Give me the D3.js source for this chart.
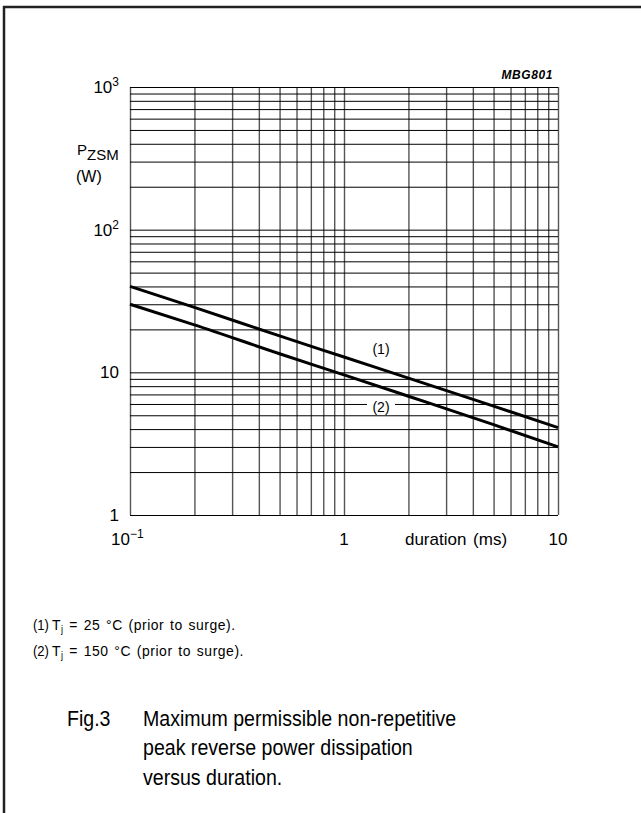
<!DOCTYPE html>
<html>
<head>
<meta charset="utf-8">
<script src="https://cdn.jsdelivr.net/npm/d3@7"></script>
<style>
  body { margin: 0; background: #fff; }
  text { font-family: "Liberation Sans", Arial, sans-serif; fill: #000; }
</style>
</head>
<body>
<div id="chart"></div>
<script>
const width = 641;
const height = 813;

// duration (ms) and P_ZSM (W)
const durations = [0.1, 0.2, 0.5, 1, 2, 5, 10];
const powerTj25 = [40, 28.5, 18, 12.8, 9.1, 5.8, 4.1];
const powerTj150 = [30, 21.5, 13.5, 9.6, 6.8, 4.3, 3.0];

const xTickLabels = [{v: 0.1, base: "10", exp: "\u22121"}, {v: 1, base: "1"}, {v: 10, base: "10"}];
const yTickLabels = [{v: 1000, base: "10", exp: "3"}, {v: 100, base: "10", exp: "2"}, {v: 10, base: "10"}, {v: 1, base: "1"}];

const svg = d3.select("#chart")
    .append("svg")
    .attr("width", width)
    .attr("height", height);

// page frame (only top and left edges show)
svg.append("line").attr("x1", 3).attr("x2", width).attr("y1", 7).attr("y2", 7)
    .attr("stroke", "#222").attr("stroke-width", 2.5);
svg.append("line").attr("x1", 4).attr("x2", 4).attr("y1", 6).attr("y2", height)
    .attr("stroke", "#222").attr("stroke-width", 2.5);

const x = d3.scaleLog().domain([0.1, 10]).range([130, 558]);
const y = d3.scaleLog().domain([1, 1000]).range([515, 87]);

// grid through axes
const xGrid = svg.append("g")
    .attr("transform", `translate(0,${y(1)})`)
    .call(d3.axisBottom(x).tickValues(x.ticks()).tickSize(-(y(1) - y(1000))).tickFormat(""));
xGrid.select(".domain").remove();
xGrid.selectAll(".tick line").attr("stroke", "#555").attr("stroke-width", 1.4);

const yGrid = svg.append("g")
    .attr("transform", `translate(${x(0.1)},0)`)
    .call(d3.axisLeft(y).tickValues(y.ticks()).tickSize(-(x(10) - x(0.1))).tickFormat(""));
yGrid.select(".domain").remove();
yGrid.selectAll(".tick line").attr("stroke", "#000").attr("stroke-width", 1);

// curves
const line = d3.line().x(d => x(d[0])).y(d => y(d[1])).curve(d3.curveMonotoneX);
[powerTj25, powerTj150].forEach(vals => {
    svg.append("path")
        .datum(durations.map((t, i) => [t, vals[i]]))
        .attr("d", line)
        .attr("fill", "none")
        .attr("stroke", "#000")
        .attr("stroke-width", 3);
});

// curve labels
svg.append("text").attr("x", 381).attr("y", 354).attr("text-anchor", "middle")
    .attr("font-size", 14).text("(1)");
svg.append("rect").attr("x", 367).attr("y", 398).attr("width", 28).attr("height", 16).attr("fill", "#fff");
svg.append("text").attr("x", 381).attr("y", 412).attr("text-anchor", "middle")
    .attr("font-size", 14).text("(2)");

// y tick labels
yTickLabels.forEach(d => {
    const t = svg.append("text")
        .attr("x", 119)
        .attr("y", y(d.v) + 6)
        .attr("text-anchor", "end")
        .attr("font-size", 17);
    t.append("tspan").text(d.base);
    if (d.exp) t.append("tspan").attr("dy", -7).attr("font-size", 12).text(d.exp);
});

// x tick labels
xTickLabels.forEach(d => {
    const t = svg.append("text")
        .attr("x", d.v === 0.1 ? 111 : x(d.v))
        .attr("y", 545)
        .attr("text-anchor", d.v === 0.1 ? "start" : "middle")
        .attr("font-size", 17);
    t.append("tspan").text(d.base);
    if (d.exp) t.append("tspan").attr("dy", -7).attr("font-size", 12).text(d.exp);
});

svg.append("text").attr("x", 456).attr("y", 545).attr("text-anchor", "middle")
    .attr("font-size", 17).attr("word-spacing", 2).text("duration (ms)");

// y axis title
const yTitle = svg.append("text").attr("x", 77).attr("y", 155).attr("font-size", 15);
yTitle.append("tspan").text("P");
yTitle.append("tspan").attr("dy", 5).text("ZSM");
svg.append("text").attr("x", 76).attr("y", 182).attr("font-size", 16).text("(W)");

svg.append("text").attr("x", 553).attr("y", 79).attr("text-anchor", "end")
    .attr("font-size", 12).attr("font-style", "italic").attr("font-weight", "bold")
    .attr("letter-spacing", 0.6)
    .text("MBG801");

// notes (narrow face)
const notes = [["(1)", "25"], ["(2)", "150"]];
notes.forEach((n, i) => {
    const yy = 630 + i * 26;
    const g = svg.append("g").attr("transform", `translate(33,${yy}) scale(0.9,1)`);
    g.append("text").attr("x", 0).attr("y", 0).attr("font-size", 14.5).text(n[0]);
    const t = g.append("text").attr("x", (51 - 33) / 0.9 + 1).attr("y", 0).attr("font-size", 15.5)
        .attr("word-spacing", 1.5).attr("letter-spacing", 0.6);
    t.append("tspan").text("T");
    t.append("tspan").attr("dy", 3).attr("font-size", 10).text("j");
    t.append("tspan").attr("dy", -3).text(` = ${n[1]} \u00b0C (prior to surge).`);
});

// caption (narrow face: scaled horizontally)
const cap = svg.append("g").attr("transform", "translate(67,726) scale(0.89,1)");
cap.append("text").attr("x", 0).attr("y", 0).attr("font-size", 22).text("Fig.3");
const caption = ["Maximum permissible non-repetitive", "peak reverse power dissipation", "versus duration."];
caption.forEach((c, i) => {
    cap.append("text").attr("x", (143 - 67) / 0.89).attr("y", i * 29.5).attr("font-size", 22).text(c);
});
</script>
</body>
</html>
